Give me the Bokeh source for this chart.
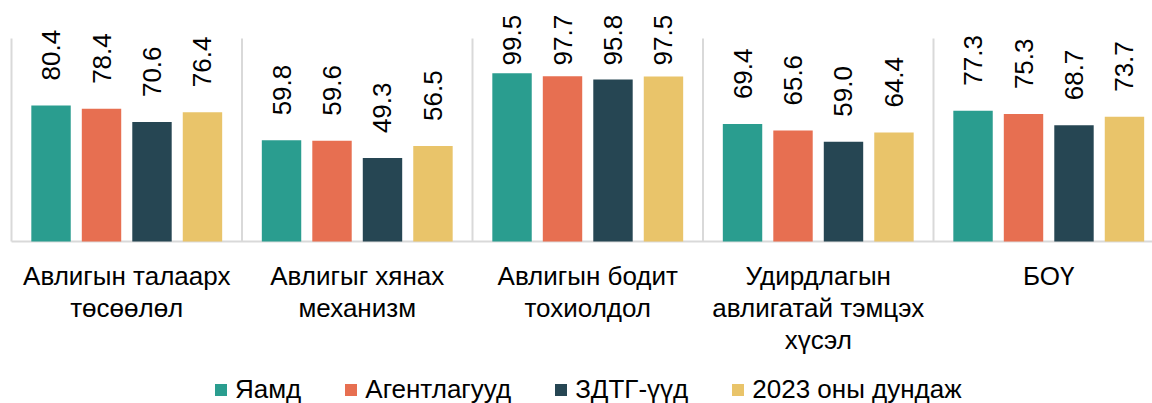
import math
from bokeh.plotting import figure
from bokeh.models import Range1d, Legend, LegendItem, ColumnDataSource
from bokeh.core.properties import value
from bokeh.embed import file_html
from bokeh.resources import INLINE

categories = ["Авлигын талаарх\nтөсөөлөл", "Авлигыг хянах\nмеханизм",
              "Авлигын бодит\nтохиолдол", "Удирдлагын\nавлигатай тэмцэх\nхүсэл", "БОҮ"]
series = ["Яамд", "Агентлагууд", "ЗДТГ-үүд", "2023 оны дундаж"]
yamd = [80.4, 59.8, 99.5, 69.4, 77.3]
agentlag = [78.4, 59.6, 97.7, 65.6, 75.3]
zdtg = [70.6, 49.3, 95.8, 59.0, 68.7]
avg2023 = [76.4, 56.5, 97.5, 64.4, 73.7]
colors = ["#2a9d8f", "#e76f51", "#264653", "#e9c46a"]

FONT = "Liberation Sans"
n = len(categories)
offsets = [-0.3285, -0.1095, 0.1095, 0.3285]
bar_w = 0.171
y_max = 120
W, H = 1152, 403
ppu_x = 230.5
ppu_y = 203 / y_max
label_gap = 25 / ppu_y        # gap between bar top and label
label_cap = 89.3              # labels are kept inside the plot area

p = figure(width=W, height=H, output_backend="svg", toolbar_location=None,
           x_range=Range1d(-11 / ppu_x, -11 / ppu_x + W / ppu_x),
           y_range=Range1d(-162 / ppu_y, y_max + 38 / ppu_y),
           x_axis_location=None, y_axis_location=None,
           min_border=0)
p.outline_line_color = None
p.xgrid.visible = False
p.ygrid.visible = False

# separators and baseline
sep = ColumnDataSource(dict(x=list(range(n)), y0=[0] * n, y1=[y_max] * n))
p.segment(x0="x", x1="x", y0="y0", y1="y1", source=sep, line_color="#d9d9d9", line_width=2)
p.segment(x0=[0], x1=[n], y0=[0], y1=[0], line_color="#d9d9d9", line_width=2)

items = []
for k, (name, vals) in enumerate(zip(series, [yamd, agentlag, zdtg, avg2023])):
    src = ColumnDataSource(dict(x=[i + 0.5 + offsets[k] for i in range(n)], top=vals,
                                ly=[min(v, label_cap) + label_gap for v in vals],
                                lab=[f"{v:.1f}" for v in vals]))
    r = p.vbar(x="x", top="top", width=bar_w, bottom=0, source=src,
               fill_color=colors[k], line_color=None)
    p.text(x="x", y="ly", text="lab", source=src, angle=math.pi / 2,
           text_align="left", text_baseline="middle",
           text_font=value(FONT), text_font_size="26px", text_color="#000000")
    items.append(LegendItem(label=name, renderers=[r]))

# category labels
cat_src = ColumnDataSource(dict(x=[i + 0.5 for i in range(n)], y=[0] * n, t=categories))
p.text(x="x", y="y", text="t", source=cat_src, text_align="center", text_baseline="top",
       y_offset=19, text_font=value(FONT), text_font_size="26px", text_color="#000000",
       text_line_height=1.08)

legend = Legend(items=items, orientation="horizontal", location=(213, -2),
                label_text_font=FONT, label_text_font_size="26px",
                label_text_color="#000000", glyph_width=15, glyph_height=15,
                spacing=42, label_standoff=7, border_line_color=None,
                background_fill_alpha=0, padding=0, margin=0)
p.add_layout(legend, "center")

open("out.html", "w").write(file_html(p, INLINE))
